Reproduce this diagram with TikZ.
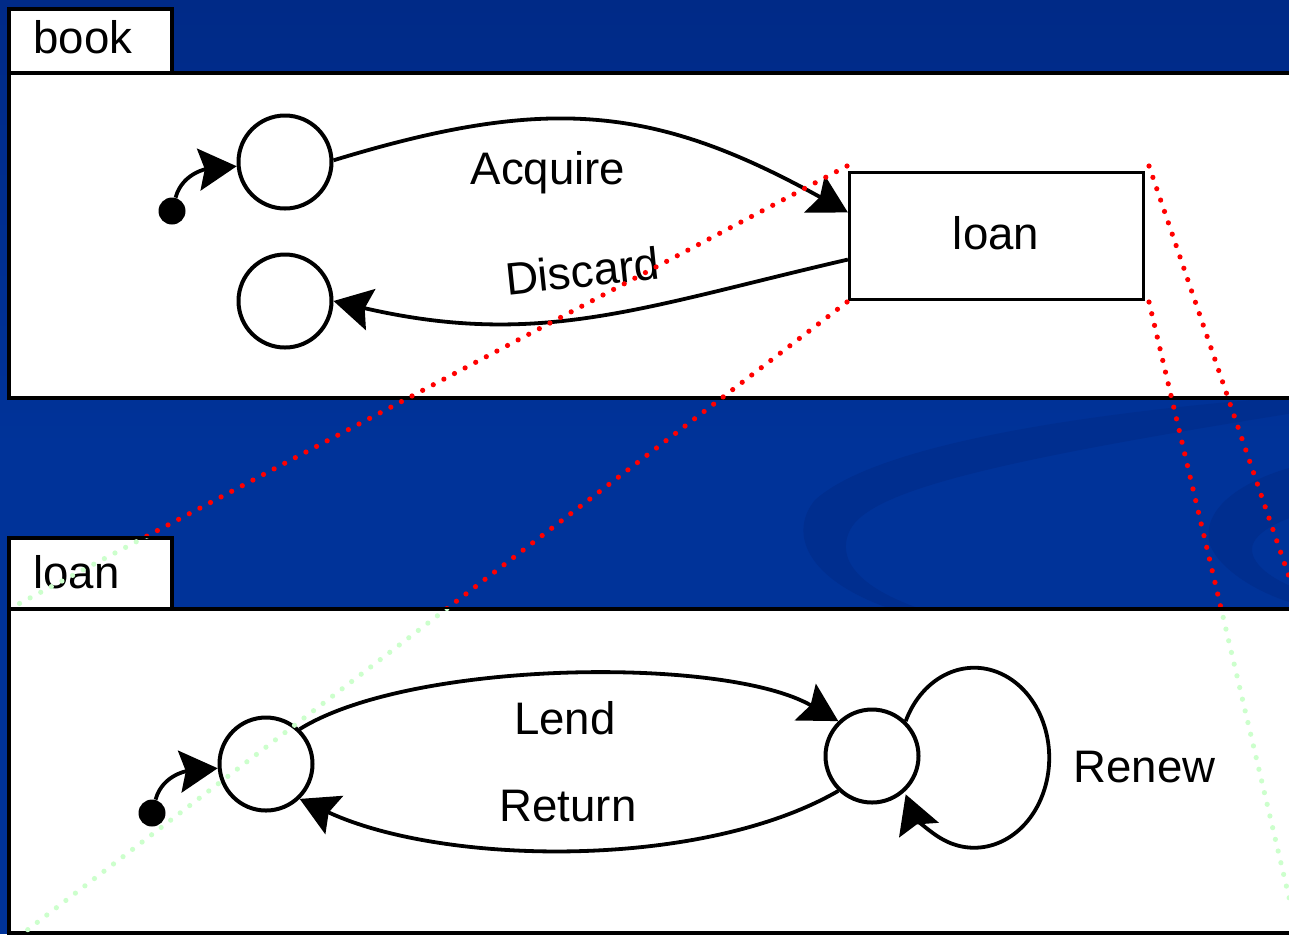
\documentclass[tikz,border=0pt]{standalone}
\usepackage{fontspec}
\setmainfont{Liberation Sans}
\usetikzlibrary{arrows.meta}

\definecolor{slideblue}{RGB}{0,51,153}
\definecolor{slidetop}{RGB}{0,42,135}
\definecolor{swirlblue}{RGB}{0,46,143}
\definecolor{zoomred}{RGB}{255,0,0}
\definecolor{zoomgreen}{RGB}{204,255,204}

\tikzset{
  state/.style={circle,draw,line width=2pt,minimum size=46.5pt,inner sep=0pt,fill=white},
  start/.style={circle,fill,minimum size=13.5pt,inner sep=0pt},
  superstate/.style={rectangle,draw,line width=1.6pt,minimum width=147pt,minimum height=63.5pt,fill=white},
  trans/.style={line width=1.9pt,-{Stealth[length=19pt,width=21pt,inset=3pt]}},
  frameline/.style={line width=1.6pt,fill=white},
  zoomline/.style={line width=2.6pt,line cap=round,dash pattern=on 0pt off 6pt},
  lbl/.style={font=\fontsize{22.8}{27}\selectfont,inner sep=0pt},
}

\begin{document}
\begin{tikzpicture}[x=0.5pt,y=0.5pt]
	\useasboundingbox (0,0) rectangle (1289,-934);
	\clip (0,0) rectangle (1289,-934);

	% slide background
	\fill[slideblue] (0,0) rectangle (1289,-934);
	\shade[top color=slidetop,bottom color=slideblue] (0,0) rectangle (1289,-450);
	\fill[swirlblue] (1300,-396) .. controls (1050,-415) and (870,-450) .. (815,-500)
		.. controls (790,-530) and (800,-580) .. (900,-612) -- (930,-612)
		.. controls (860,-590) and (835,-560) .. (850,-530)
		.. controls (870,-490) and (1000,-460) .. (1300,-412) -- cycle;
	\fill[swirlblue] (1300,-465) .. controls (1240,-480) and (1200,-510) .. (1210,-545)
		.. controls (1220,-570) and (1260,-595) .. (1300,-605) -- (1300,-590)
		.. controls (1260,-575) and (1245,-555) .. (1255,-540)
		.. controls (1262,-530) and (1280,-520) .. (1300,-515) -- cycle;

	% book
	\draw[frameline] (9,-73) rectangle (1310,-398);
	\draw[frameline] (9,-9) rectangle (172,-73);
	\node[lbl,anchor=base west] (booktab) at (33,-53) {book};

	\node[start] (i1) at (172,-211) {};
	\node[state] (s1) at (285,-162) {};
	\node[state] (s2) at (285,-301) {};
	\node[superstate] (loan) at (996.5,-236) {};
	\node[lbl,anchor=base] (loantxt) at (996,-249) {loan};

	\draw[trans] (i1) to[out=75,in=185] (s1);
	\draw[trans] (s1.2) to[out=17,in=151,looseness=1.1] (loan.171);
	\draw[trans] (loan.189) to[out=193,in=-13,looseness=1.05] (s2.0);
	\node[lbl,anchor=base] (acquire) at (548,-184) {Acquire};
	\node[lbl,anchor=base,rotate=6] (discard) at (584,-287) {Discard};

	\coordinate (z1) at (847,-166);
	\coordinate (z2) at (1149,-166);
	\coordinate (z3) at (847,-302);
	\coordinate (z4) at (1149,-302);
	\coordinate (w1) at (9,-609);
	\coordinate (w2) at (1300,-609);
	\coordinate (w3) at (9,-944);
	\coordinate (w4) at (1300,-944);

	\draw[zoomline,zoomred] (z1) -- (w1);
	\draw[zoomline,zoomred] (z2) -- (w2);
	\draw[zoomline,zoomred] (z3) -- (w3);
	\draw[zoomline,zoomred] (z4) -- (w4);

	% loan
	\draw[frameline] (9,-609) rectangle (1310,-933);
	\draw[frameline] (9,-538) rectangle (172,-609);
	\node[lbl,anchor=base west] (loantab) at (33,-588) {loan};

	\node[start] (i2) at (152,-813) {};
	\node[state] (sA) at (266,-764) {};
	\node[state] (sB) at (872,-756) {};

	\draw[trans] (i2) to[out=75,in=185] (sA);
	\draw[trans] (sA.46) to[out=32,in=150,looseness=0.62] (sB.134);
	\draw[trans] (sB.226) to[out=210,in=-25,looseness=0.75] (sA.-46);
	\draw[trans] (sB.46) arc[start angle=156,end angle=-156,x radius=75,y radius=90];
	\node[lbl,anchor=base] (lend) at (565,-734) {Lend};
	\node[lbl,anchor=base] (return) at (568,-821) {Return};
	\node[lbl,anchor=base west] (renew) at (1073,-782) {Renew};

	\begin{scope}
		\clip (9,-538) rectangle (172,-609) (9,-609) rectangle (1310,-933);
		\draw[zoomline,zoomgreen] (z1) -- (w1);
		\draw[zoomline,zoomgreen] (z2) -- (w2);
		\draw[zoomline,zoomgreen] (z3) -- (w3);
		\draw[zoomline,zoomgreen] (z4) -- (w4);
	\end{scope}
\end{tikzpicture}
\end{document}
